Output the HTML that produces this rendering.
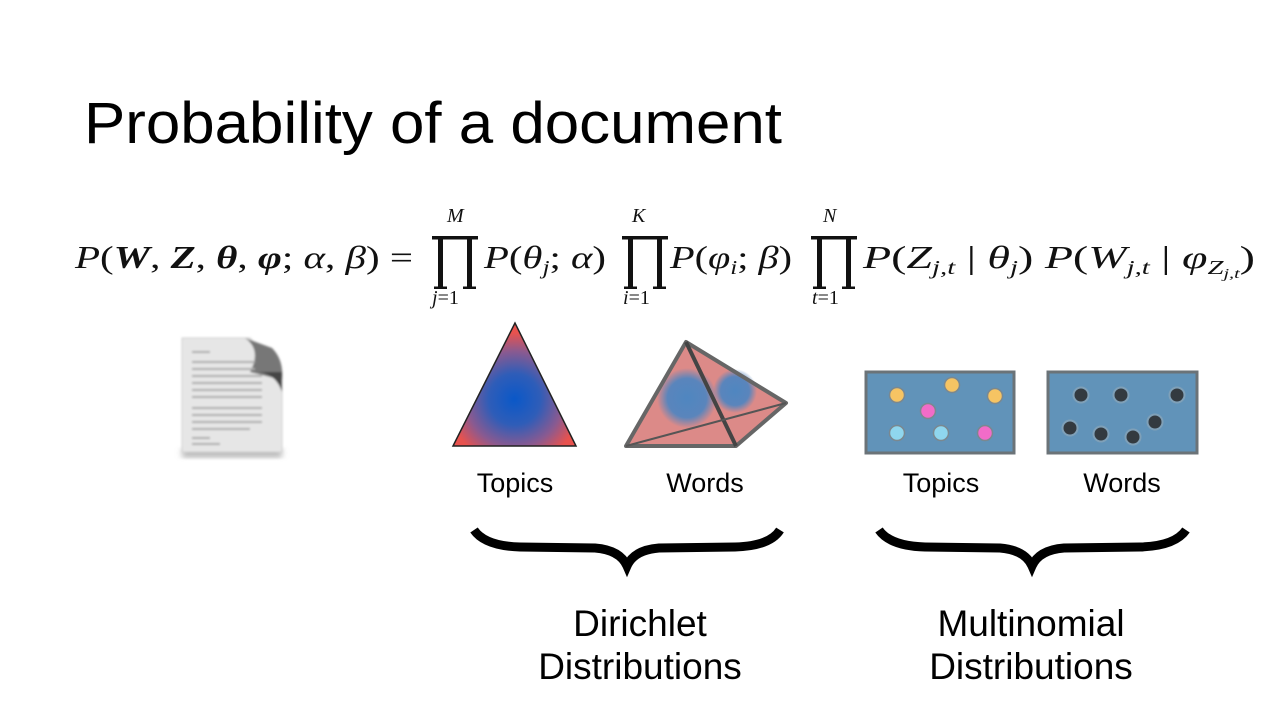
<!DOCTYPE html>
<html><head><meta charset="utf-8"><style>
html,body{margin:0;padding:0;background:#fff;}
svg{display:block;}
</style></head><body>
<svg width="1280" height="720" viewBox="0 0 1280 720" xmlns="http://www.w3.org/2000/svg">
<defs>
<radialGradient id="tg" cx="0.5" cy="0.62" r="0.6">
<stop offset="0" stop-color="#0a58c8"/><stop offset="0.35" stop-color="#2f5db8"/><stop offset="0.65" stop-color="#8a5a90"/><stop offset="0.9" stop-color="#e8524e"/>
</radialGradient>
<radialGradient id="b1" cx="0.5" cy="0.5" r="0.5"><stop offset="0" stop-color="#4f86c0"/><stop offset="0.65" stop-color="#5a85bc"/><stop offset="1" stop-color="#5a85bc" stop-opacity="0"/></radialGradient>
<filter id="blur"><feGaussianBlur stdDeviation="3"/></filter>
<filter id="blur1"><feGaussianBlur stdDeviation="1"/></filter>
<g id="prod"><rect x="0" y="0" width="46" height="3.5"/><rect x="6" y="0" width="5" height="52"/><rect x="35" y="0" width="5" height="52"/><rect x="2" y="50.5" width="13" height="2.5"/><rect x="31" y="50.5" width="13" height="2.5"/></g>
</defs>

<text x="84" y="143" font-family="Liberation Sans, sans-serif" font-size="58" fill="#000" textLength="698" lengthAdjust="spacingAndGlyphs">Probability of a document</text>

<g font-family="Liberation Serif, DejaVu Serif, serif" font-size="32" fill="#111">
<text x="75" y="268" textLength="338" lengthAdjust="spacingAndGlyphs"><tspan font-style="italic">P</tspan>(<tspan font-weight="bold" font-style="italic">W</tspan>, <tspan font-weight="bold" font-style="italic">Z</tspan>, <tspan font-weight="bold" font-style="italic">θ</tspan>, <tspan font-weight="bold" font-style="italic">φ</tspan>; <tspan font-style="italic">α</tspan>, <tspan font-style="italic">β</tspan>) =</text>
<use href="#prod" x="432" y="236"/>
<text x="447" y="222" font-size="20" font-style="italic">M</text>
<text x="432" y="304" font-size="20"><tspan font-style="italic">j</tspan>=1</text>
<text x="484" y="268" textLength="122" lengthAdjust="spacingAndGlyphs"><tspan font-style="italic">P</tspan>(<tspan font-style="italic">θ</tspan><tspan font-size="20" font-style="italic" dy="6">j</tspan><tspan dy="-6">; </tspan><tspan font-style="italic">α</tspan>)</text>
<use href="#prod" x="622" y="236"/>
<text x="632" y="222" font-size="20" font-style="italic">K</text>
<text x="623" y="304" font-size="20"><tspan font-style="italic">i</tspan>=1</text>
<text x="670" y="268" textLength="122" lengthAdjust="spacingAndGlyphs"><tspan font-style="italic">P</tspan>(<tspan font-style="italic">φ</tspan><tspan font-size="20" font-style="italic" dy="6">i</tspan><tspan dy="-6">; </tspan><tspan font-style="italic">β</tspan>)</text>
<use href="#prod" x="811" y="236"/>
<text x="823" y="222" font-size="20" font-style="italic">N</text>
<text x="812" y="304" font-size="20"><tspan font-style="italic">t</tspan>=1</text>
<text x="863" y="268" textLength="392" lengthAdjust="spacingAndGlyphs"><tspan font-style="italic">P</tspan>(<tspan font-style="italic">Z</tspan><tspan font-size="20" font-style="italic" dy="6">j,t</tspan><tspan dy="-6"> | </tspan><tspan font-style="italic">θ</tspan><tspan font-size="20" font-style="italic" dy="6">j</tspan><tspan dy="-6">) </tspan><tspan font-style="italic">P</tspan>(<tspan font-style="italic">W</tspan><tspan font-size="20" font-style="italic" dy="6">j,t</tspan><tspan dy="-6"> | </tspan><tspan font-style="italic">φ</tspan><tspan font-size="20" font-style="italic" dy="6">Z</tspan><tspan font-size="14" font-style="italic" dy="4">j,t</tspan><tspan dy="-10">)</tspan></text>
</g>

<!-- document icon -->
<g filter="url(#blur1)">
<rect x="182" y="448" width="100" height="10" fill="#bbb" filter="url(#blur)"/>
<path d="M182 338 L250 338 L282 372 L282 452 L182 452 Z" fill="#e6e6e6" stroke="#cfcfcf"/>
<path d="M245 338 Q262 350 250 372 L282 380 Q284 360 272 348 Z" fill="#777"/>
<path d="M250 372 Q275 370 282 392 L282 372 Z" fill="#444"/>
<g stroke="#aaa" stroke-width="2">
<line x1="192" y1="352" x2="210" y2="352"/><line x1="192" y1="362" x2="255" y2="362"/><line x1="192" y1="369" x2="255" y2="369"/>
<line x1="192" y1="376" x2="262" y2="376"/><line x1="192" y1="383" x2="262" y2="383"/><line x1="192" y1="390" x2="262" y2="390"/><line x1="192" y1="397" x2="262" y2="397"/>
<line x1="192" y1="408" x2="262" y2="408"/><line x1="192" y1="415" x2="262" y2="415"/><line x1="192" y1="422" x2="262" y2="422"/><line x1="192" y1="429" x2="250" y2="429"/>
<line x1="192" y1="438" x2="210" y2="438"/><line x1="192" y1="444" x2="220" y2="444"/>
</g></g>

<!-- triangle -->
<polygon points="515,323 453,446 576,446" fill="url(#tg)" stroke="#222" stroke-width="1.5"/>

<!-- tetrahedron -->
<polygon points="686,342 786,403 736,446 626,446" fill="#dc8a88"/>
<circle cx="687" cy="398" r="30" fill="url(#b1)"/>
<circle cx="735" cy="391" r="22" fill="url(#b1)"/>
<polygon points="686,342 786,403 736,446 626,446" fill="none" stroke="#666" stroke-width="4" stroke-linejoin="round"/>
<line x1="686" y1="342" x2="736" y2="446" stroke="#444" stroke-width="4"/>
<line x1="626" y1="446" x2="786" y2="403" stroke="#555" stroke-width="2"/>

<!-- multinomial boxes -->
<rect x="866" y="372" width="148" height="81" fill="#6193b9" stroke="#6b7378" stroke-width="3"/>
<g stroke="#7a8890" stroke-width="1.5">
<circle cx="897" cy="395" r="7.5" fill="#f6c463"/><circle cx="952" cy="385" r="7.5" fill="#f6c463"/><circle cx="995" cy="396" r="7.5" fill="#f6c463"/>
<circle cx="928" cy="411" r="7.5" fill="#f26cc8"/><circle cx="985" cy="433" r="7.5" fill="#f26cc8"/>
<circle cx="897" cy="433" r="7.5" fill="#8fd6ee"/><circle cx="941" cy="433" r="7.5" fill="#8fd6ee"/>
</g>
<rect x="1048" y="372" width="149" height="81" fill="#6193b9" stroke="#6b7378" stroke-width="3"/>
<g stroke="#7fa0b8" stroke-width="2" fill="#333a40">
<circle cx="1081" cy="395" r="7.5"/><circle cx="1121" cy="395" r="7.5"/><circle cx="1177" cy="395" r="7.5"/>
<circle cx="1070" cy="428" r="7.5"/><circle cx="1101" cy="434" r="7.5"/><circle cx="1133" cy="437" r="7.5"/><circle cx="1155" cy="422" r="7.5"/>
</g>

<g font-family="Liberation Sans, sans-serif" font-size="27" fill="#000" text-anchor="middle">
<text x="515" y="492">Topics</text>
<text x="705" y="492">Words</text>
<text x="941" y="492">Topics</text>
<text x="1122" y="492">Words</text>
</g>

<!-- braces -->
<g fill="none" stroke="#000" stroke-width="9" stroke-linecap="butt">
<path d="M474 530 Q485 546 520 547 L595 548 Q620 550 627 566 Q634 550 659 548 L735 547 Q770 546 780 530"/>
<path d="M879 530 Q890 546 925 547 L1000 548 Q1025 550 1032 566 Q1039 550 1064 548 L1140 547 Q1175 546 1186 530"/>
</g>

<g font-family="Liberation Sans, sans-serif" font-size="37" fill="#000" text-anchor="middle">
<text x="640" y="636">Dirichlet</text>
<text x="640" y="679">Distributions</text>
<text x="1031" y="636">Multinomial</text>
<text x="1031" y="679">Distributions</text>
</g>
</svg>
</body></html>
